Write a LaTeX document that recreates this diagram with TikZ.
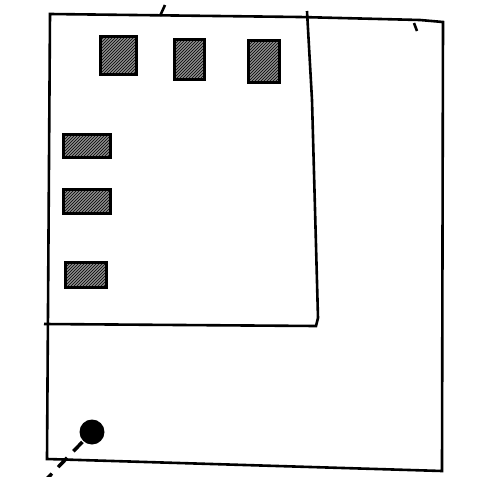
\documentclass[tikz,border=0pt]{standalone}
\usetikzlibrary{patterns}

\begin{document}
\begin{tikzpicture}[
      x=1pt,
      y=-1pt,
      line width=2.6pt,
      box/.style={draw,line width=3pt,inner sep=0pt,
        preaction={fill=black!45},pattern=north east lines},
      dot/.style={circle,fill,inner sep=0pt,minimum size=25pt}
    ]
    \useasboundingbox (0,0) rectangle (491,477);
    % frames
    \draw (50,14) -- (300,17) -- (420,20) -- (443,22) -- (442,471) -- (47,459) -- cycle;
    \draw (307,11) -- (312,100) -- (318,318) -- (316,326) -- (44,324);
    \draw (160,16) -- (165,5);
    \draw (414,23) -- (417,31);
    % top row
    \node (t1) [box,minimum width=36pt,minimum height=38pt] at (118,55) {};
    \node (t2) [box,minimum width=30pt,minimum height=40pt] at (189,59) {};
    \node (t3) [box,minimum width=31pt,minimum height=42pt] at (264,61) {};
    % left column
    \node (l1) [box,minimum width=47pt,minimum height=23pt] at (87,146) {};
    \node (l2) [box,minimum width=47pt,minimum height=24pt] at (87,201) {};
    \node (l3) [box,minimum width=41pt,minimum height=25pt] at (86,275) {};
    % marker
    \node (d) [dot] at (92,432) {};
    \coordinate (e) at (38,488);
    \draw [line width=3.5pt,dash pattern=on 13pt off 9pt] (d) -- (e);
  \end{tikzpicture}
\end{document}
